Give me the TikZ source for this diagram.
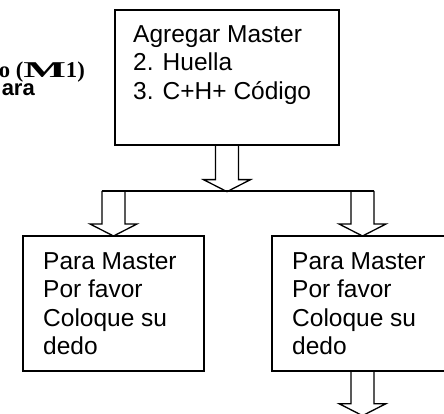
\documentclass[tikz,border=0pt]{standalone}
\usepackage{fontspec}
\setmainfont{Liberation Sans}
\newfontfamily\titlefont{Liberation Serif}
\usetikzlibrary{calc}

\tikzset{
	caja/.style={draw, line width=1.3pt, minimum width=181pt, minimum height=135pt, inner sep=0pt},
	texto/.style={anchor=north west, align=left, inner sep=0pt, font=\fontsize{24.5}{28.4}\selectfont},
	titulo/.style={anchor=base east, inner sep=0pt, font=\titlefont\bfseries\fontsize{22.6}{24}\selectfont},
	subtitulo/.style={anchor=base east, inner sep=0pt, font=\bfseries\fontsize{22}{24}\selectfont},
	flecha/.style={draw, line width=1.3pt, line join=miter},
}

% flecha de bloque: punto de inicio, largo del tronco
\newcommand{\bloque}[2]{%
	\draw[flecha] (#1) ++(-11.5,0) -- ++(0,#2) -- ++(-12,0) -- ++(23.5,12) -- ++(23.5,-12) -- ++(-12,0) -- ++(0,-#2);
}

\begin{document}
\begin{tikzpicture}[x=1pt, y=-1pt]
			
			\useasboundingbox (0,0) rectangle (444,414);
			
			\node [titulo] (paso) at (85,78) {o (\scalebox{2}[1]{M}1)};
			\node [subtitulo] (para) at (35,95.5) {ara};
			
			\node [caja, minimum width=224pt] (agregar) at (227,77.5) {};
			\node [caja] (izq) at (113.5,303.5) {};
			\node [caja] (der) at (362.5,303.5) {};
			
			\node [texto] (tagregar) at (133,25.5) {Agregar Master\\2. Huella\\3. C+H+ Código};
			\node [texto] (tizq) at (43,252.5) {Para Master\\Por favor\\Coloque su\\dedo};
			\node [texto] (tder) at (292,252.5) {Para Master\\Por favor\\Coloque su\\dedo};
			
			\coordinate (rama) at (227,191);
			
			\bloque{agregar.south}{34}
			\draw [flecha] ($(izq.north |- rama)+(-11.5,0)$) -- ($(der.north |- rama)+(11.5,0)$);
			\bloque{izq.north |- rama}{33}
			\bloque{der.north |- rama}{33}
			\bloque{der.south}{32}
			
			\end{tikzpicture}
\end{document}
